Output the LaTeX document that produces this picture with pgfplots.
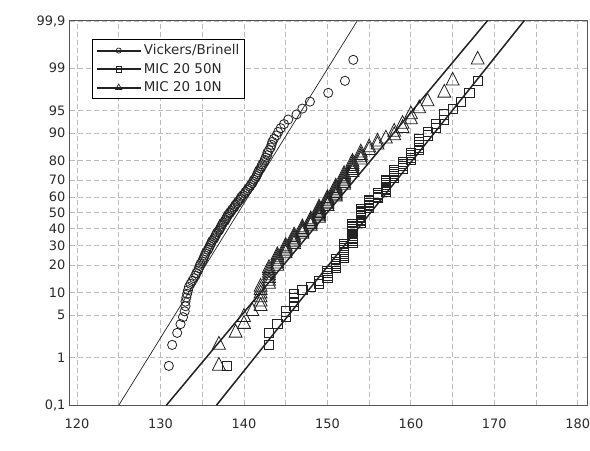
\documentclass[border=0pt]{standalone}
\usepackage{fontspec}
\setmainfont{DejaVu Sans}
\usepackage{pgfplots}
\usepackage{pgfplotstable}
\pgfplotsset{compat=1.18}
\definecolor{txt}{HTML}{2A2A2A}
\definecolor{frm}{HTML}{555555}
\definecolor{grd}{HTML}{BBBBBB}
\definecolor{mk}{HTML}{222222}

% Vickers/Brinell: hardness (HV), cumulative percent
\pgfplotstableread{
x p
131.0 0.7
131.4 1.7
132.0 2.7
132.4 3.7
132.7 4.7
132.9 5.7
133.0 6.7
133.0 7.7
133.1 8.7
133.2 9.7
133.3 10.7
133.4 11.7
133.6 12.7
133.8 13.7
134.0 14.7
134.2 15.7
134.3 16.7
134.5 17.7
134.6 18.7
134.7 19.7
134.8 20.7
135.0 21.7
135.1 22.7
135.2 23.7
135.3 24.7
135.4 25.7
135.5 26.7
135.7 27.7
135.8 28.7
135.9 29.7
136.0 30.7
136.1 31.7
136.2 32.7
136.4 33.7
136.5 34.7
136.6 35.7
136.7 36.7
136.8 37.7
137.0 38.7
137.1 39.7
137.2 40.7
137.3 41.7
137.4 42.7
137.5 43.7
137.7 44.7
137.8 45.7
137.9 46.7
138.0 47.7
138.1 48.7
138.3 49.7
138.3 50.3
138.5 51.3
138.6 52.3
138.8 53.3
138.9 54.3
139.0 55.3
139.2 56.3
139.3 57.3
139.5 58.3
139.6 59.3
139.7 60.3
139.9 61.3
140.1 62.3
140.2 63.3
140.4 64.3
140.5 65.3
140.7 66.3
140.8 67.3
141.0 68.3
141.1 69.3
141.2 70.3
141.4 71.3
141.5 72.3
141.6 73.3
141.7 74.3
141.8 75.3
142.0 76.3
142.1 77.3
142.2 78.3
142.4 79.3
142.5 80.3
142.6 81.3
142.8 82.3
142.8 83.3
143.0 84.3
143.2 85.3
143.3 86.3
143.4 87.3
143.6 88.3
143.9 89.3
144.1 90.3
144.4 91.3
144.8 92.3
145.3 93.3
146.3 94.3
147.0 95.3
147.9 96.3
150.1 97.3
152.1 98.3
153.1 99.3
}\vickers

% MIC 20 50N
\pgfplotstableread{
x p
138 0.7
143 1.7
143 2.7
144 3.7
145 4.7
145 5.7
146 6.7
146 7.7
146 8.7
146 9.7
147 10.7
148 11.7
149 12.7
149 13.7
150 14.7
150 15.7
150 16.7
150 17.7
151 18.7
151 19.7
151 20.7
151 21.7
151 22.7
152 23.7
152 24.7
152 25.7
152 26.7
152 27.7
152 28.7
152 29.7
152 30.7
153 31.7
153 32.7
153 33.7
153 34.7
153 35.7
153 36.7
153 37.7
153 38.7
153 39.7
153 40.7
153 41.7
153 42.7
154 43.7
154 44.7
154 45.7
154 46.7
154 47.7
154 48.7
154 49.7
154 50.3
154 51.3
154 52.3
155 53.3
155 54.3
155 55.3
155 56.3
155 57.3
155 58.3
156 59.3
156 60.3
156 61.3
156 62.3
157 63.3
157 64.3
157 65.3
157 66.3
157 67.3
157 68.3
157 69.3
157 70.3
158 71.3
158 72.3
158 73.3
158 74.3
158 75.3
159 76.3
159 77.3
159 78.3
159 79.3
160 80.3
160 81.3
160 82.3
160 83.3
161 84.3
161 85.3
161 86.3
161 87.3
161 88.3
162 89.3
162 90.3
163 91.3
163 92.3
164 93.3
164 94.3
165 95.3
166 96.3
167 97.3
168 98.3
}\micfifty

% MIC 20 10N
\pgfplotstableread{
x p
137 0.7
137 1.7
139 2.7
140 3.7
140 4.7
141 5.7
142 6.7
142 7.7
142 8.7
142 9.7
142 10.7
142 11.7
143 12.7
143 13.7
143 14.7
143 15.7
143 16.7
143 17.7
143 18.7
144 19.7
144 20.7
144 21.7
144 22.7
144 23.7
144 24.7
145 25.7
145 26.7
145 27.7
145 28.7
145 29.7
146 30.7
146 31.7
146 32.7
146 33.7
146 34.7
146 35.7
147 36.7
147 37.7
147 38.7
147 39.7
147 40.7
148 41.7
148 42.7
148 43.7
148 44.7
148 45.7
149 46.7
149 47.7
149 48.7
149 49.7
149 50.3
149 51.3
149 52.3
149 53.3
150 54.3
150 55.3
150 56.3
150 57.3
150 58.3
150 59.3
151 60.3
151 61.3
151 62.3
151 63.3
151 64.3
151 65.3
151 66.3
152 67.3
152 68.3
152 69.3
152 70.3
152 71.3
152 72.3
152 73.3
153 74.3
153 75.3
153 76.3
153 77.3
153 78.3
153 79.3
154 80.3
154 81.3
154 82.3
154 83.3
155 84.3
155 85.3
156 86.3
156 87.3
157 88.3
158 89.3
158 90.3
159 91.3
159 92.3
160 93.3
160 94.3
161 95.3
162 96.3
164 97.3
165 98.3
168 99.3
}\micten

\begin{document}
\begin{tikzpicture}[
  declare function={
    pt(\q)=sqrt(-2*ln(\q));
    pr(\t)=\t-(2.515517+0.802853*\t+0.010328*\t*\t)/(1+1.432788*\t+0.189269*\t*\t+0.001308*\t*\t*\t);
    probit(\p)=(\p<50)*(-pr(pt(\p/100)))+(\p>=50)*pr(pt(1-\p/100));
  }]
\begin{axis}[
  name=ax,
  scale only axis,
  width=517bp, height=384bp,
  xmin=119.16, xmax=181.1,
  ymin=0.1, ymax=99.9,
  y coord trafo/.code={\pgfmathparse{probit(#1)}},
  xtick={120,130,140,150,160,170,180},
  xticklabels={120,130,140,150,160,170,180},
  minor xtick={125,135,145,155,165,175},
  ytick={0.1,1,5,10,20,30,40,50,60,70,80,90,95,99,99.9},
  yticklabels={{0,1},1,5,10,20,30,40,50,60,70,80,90,95,99,{99,9}},
  grid=both,
  major grid style={draw=grd, dashed, line width=0.8bp, dash pattern=on 5bp off 3bp},
  minor grid style={draw=grd, dashed, line width=0.8bp, dash pattern=on 5bp off 3bp},
  major tick length=0pt, minor tick length=0pt,
  axis line style={draw=frm, line width=1bp},
  tick label style={font=\fontsize{13}{15}\selectfont, text=txt},
  xticklabel style={yshift=-10bp},
  yticklabel style={xshift=-1bp},
  clip=true,
  legend style={at={(0.043,0.952)}, anchor=north west, draw=black, line width=0.6bp,
     fill=white, font=\fontsize{13.5}{15}\selectfont, text=txt,
     inner xsep=3bp, inner ysep=3bp, row sep=3bp},
  legend cell align=left,
  legend image code/.code={%
    \draw[#1, mark=none] (0cm,0cm) -- (1.56cm,0cm);
    \draw[#1, line width=0.7bp] plot coordinates {(0.78cm,0cm)};},
]
\addlegendimage{mk, line width=2.1bp, mark=o, mark size=2.6bp, mark options={solid, fill=white}}
\addlegendentry{Vickers/Brinell}
\addlegendimage{mk, line width=2.1bp, mark=square, mark size=2.8bp, mark options={solid, fill=white}}
\addlegendentry{MIC 20 50N}
\addlegendimage{mk, line width=2.1bp, mark=triangle, mark size=3.6bp, mark options={solid, fill=white}}
\addlegendentry{MIC 20 10N}

\addplot[forget plot, only marks, mark=o, mark size=4.6bp, mark options={draw=mk, line width=0.8bp}] table[x=x,y=p]{\vickers};
\addplot[forget plot, only marks, mark=square, mark size=4.6bp, mark options={draw=mk, line width=0.8bp}] table[x=x,y=p]{\micfifty};
\addplot[forget plot, only marks, mark=triangle, mark size=8.5bp, mark options={draw=mk, line width=0.8bp, xscale=0.88}] table[x=x,y=p]{\micten};

\addplot[forget plot, mk, line width=0.7bp] coordinates {(125.0,0.1) (153.6,99.9)};
\addplot[forget plot, mk, line width=1.5bp] coordinates {(130.7,0.1) (169.2,99.9)};
\addplot[forget plot, mk, line width=1.5bp] coordinates {(136.7,0.1) (173.6,99.9)};

\node[rotate=90, font=\bfseries\fontsize{15}{17}\selectfont, text=txt] at (rel axis cs:-0.098,0.825) {Percent};
\node[font=\fontsize{15}{17}\selectfont, text=txt] at (rel axis cs:0.862,-0.1) {Hardness , HV};
\end{axis}
\pgfresetboundingbox
\path[use as bounding box] ([shift={(-70bp,-46bp)}]ax.south west) rectangle ([shift={(3bp,21bp)}]ax.north east);
\end{tikzpicture}
\end{document}
